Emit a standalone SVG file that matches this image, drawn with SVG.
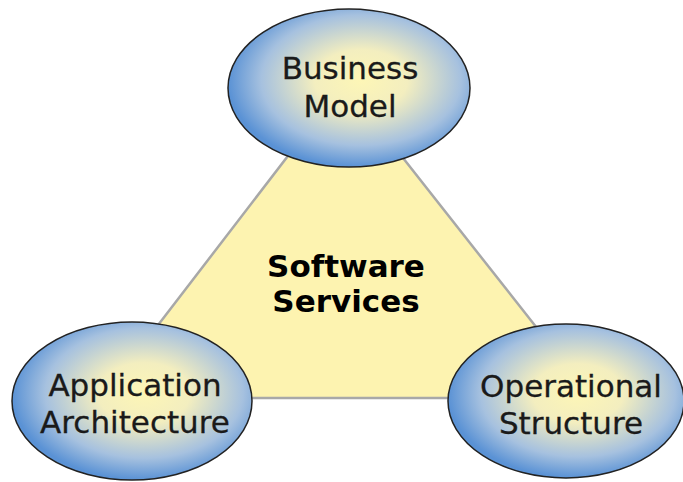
<svg xmlns="http://www.w3.org/2000/svg" width="683" height="482" viewBox="0 0 683 482">
<defs>
<radialGradient id="g" cx="0.55" cy="0.45" r="0.55">
<stop offset="0" stop-color="#fdf6b6"/>
<stop offset="0.35" stop-color="#f3eebf"/>
<stop offset="0.75" stop-color="#a6c1df"/>
<stop offset="1" stop-color="#5a92d5"/>
</radialGradient>
<style>
.node ellipse{fill:url(#g);stroke:#222;stroke-width:1.5}
.lbl{font-family:"DejaVu Sans",Verdana,sans-serif;font-size:31px;fill:#1a1a1a;stroke:#1a1a1a;stroke-width:0.3;text-anchor:middle}
.bold{font-weight:bold;fill:#000;stroke:none}
</style>
</defs>
<rect width="683" height="482" fill="#fff"/>
<g id="connectors">
<polygon points="344,83 102,398 592,398" fill="#fdf3b0" stroke="#a8a8a8" stroke-width="2.5" stroke-linejoin="round"/>
</g>
<g id="center">
<text class="lbl bold" x="346" y="277">Software</text>
<text class="lbl bold" x="346" y="312">Services</text>
</g>
<g id="business" class="node">
<ellipse cx="349" cy="88" rx="121" ry="79"/>
<text class="lbl" x="350" y="79">Business</text>
<text class="lbl" x="350" y="117">Model</text>
</g>
<g id="application" class="node">
<ellipse cx="132" cy="401" rx="120" ry="79"/>
<text class="lbl" x="135" y="396">Application</text>
<text class="lbl" x="135" y="433">Architecture</text>
</g>
<g id="operational" class="node">
<ellipse cx="566" cy="401" rx="118" ry="77"/>
<text class="lbl" x="571" y="397">Operational</text>
<text class="lbl" x="571" y="434">Structure</text>
</g>
</svg>
